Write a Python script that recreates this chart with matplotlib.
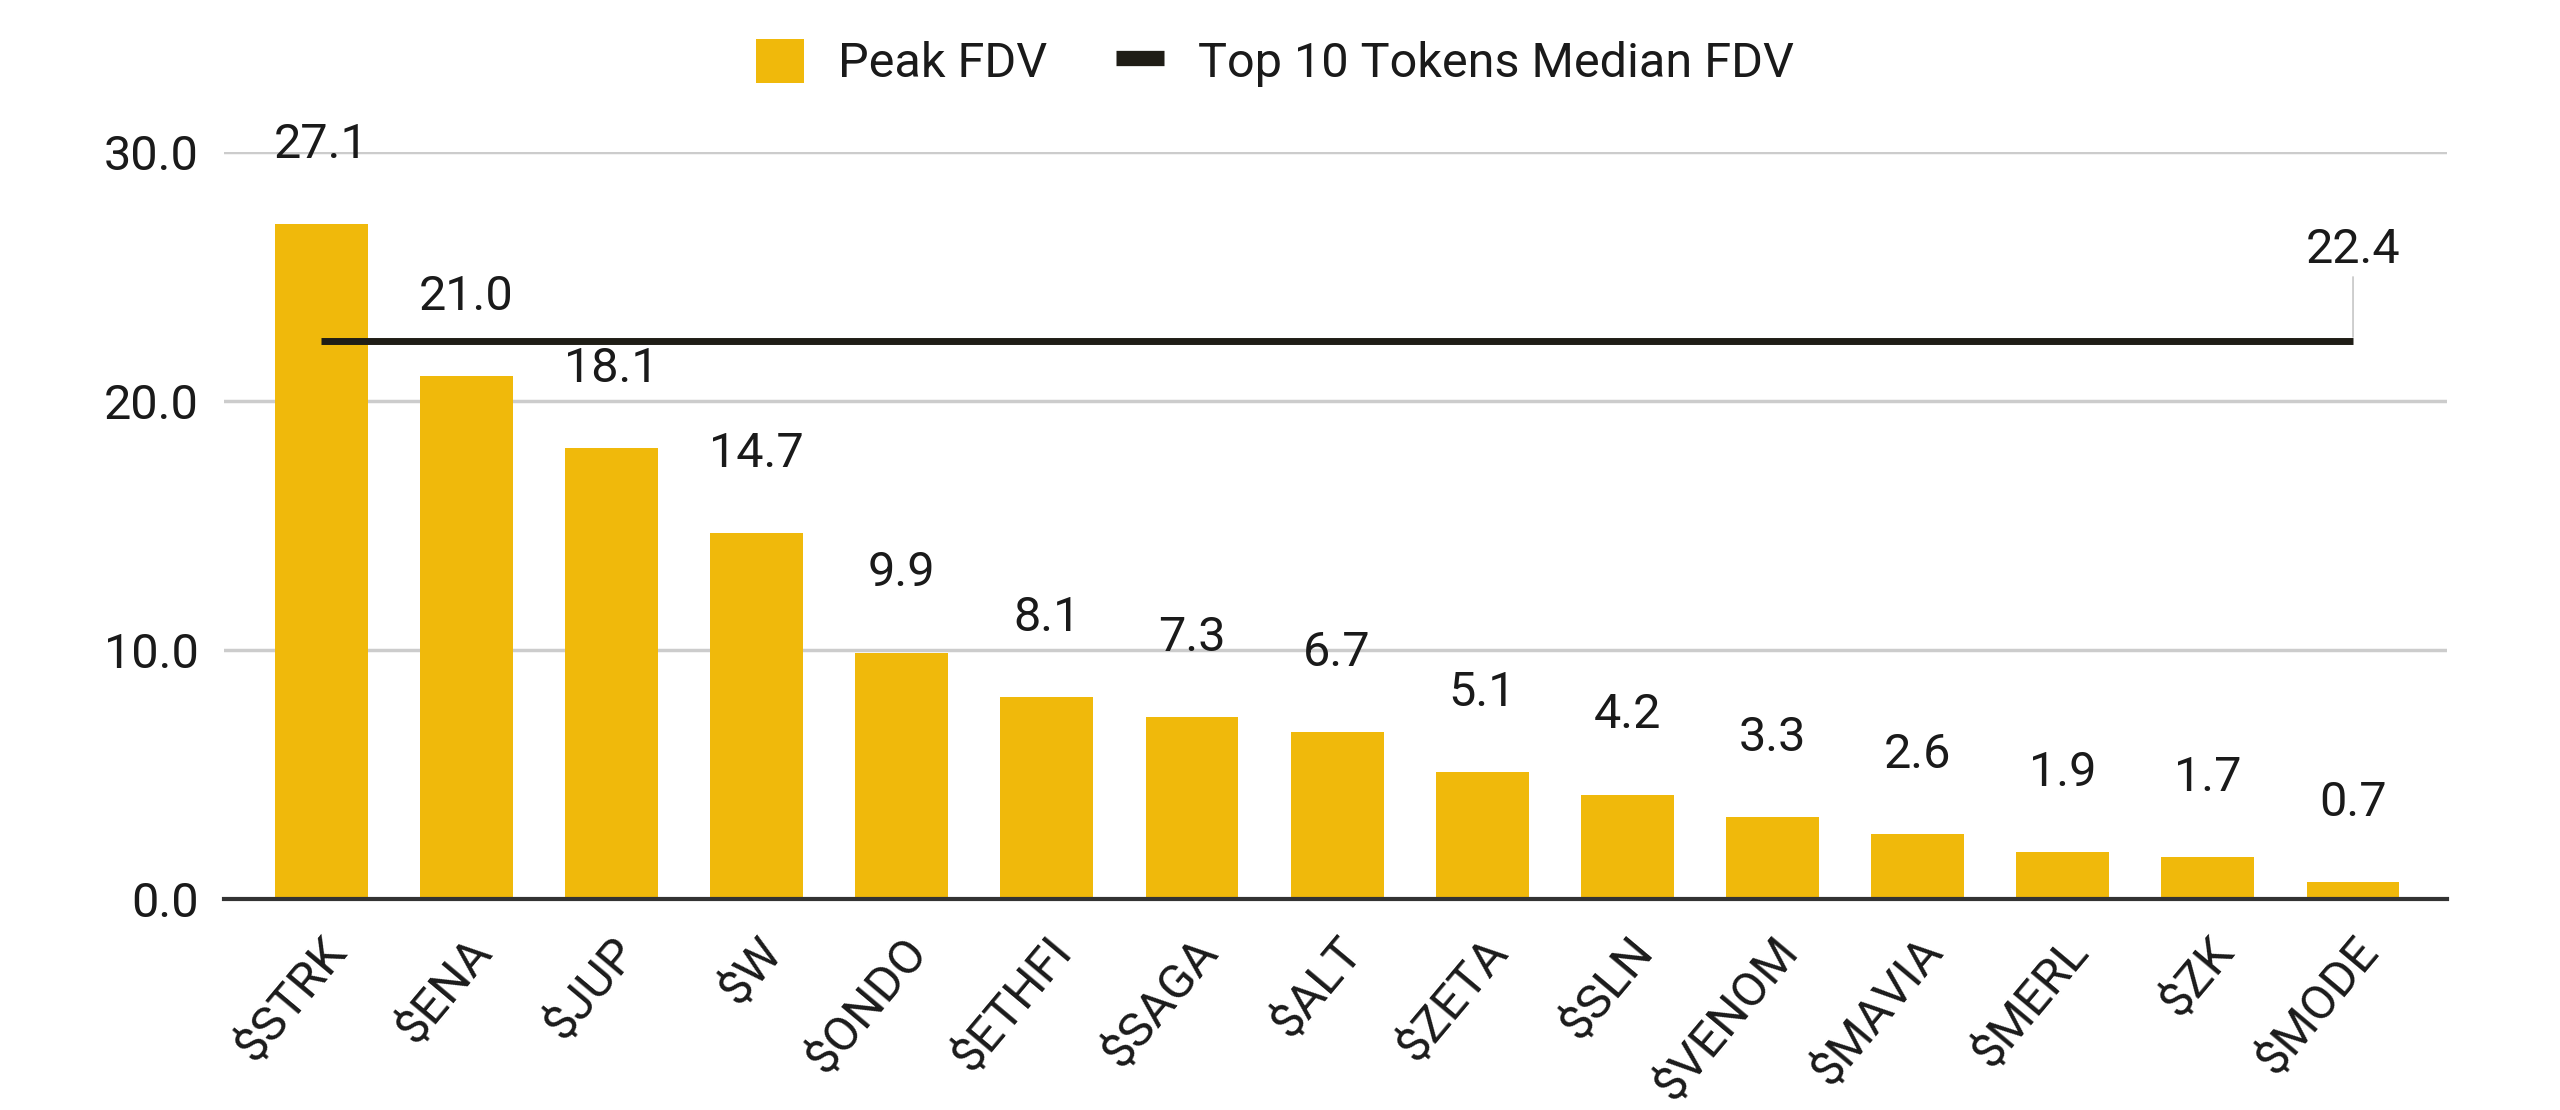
"""Peak FDV by token vs top 10 tokens median FDV"""

import matplotlib
matplotlib.use('Agg')
import matplotlib.pyplot as plt
from matplotlib.patches import Patch
from matplotlib.lines import Line2D

plt.rcParams['font.family'] = ['Roboto', 'DejaVu Sans']

tokens = ['$STRK', '$ENA', '$JUP', '$W', '$ONDO', '$ETHFI', '$SAGA', '$ALT',
          '$ZETA', '$SLN', '$VENOM', '$MAVIA', '$MERL', '$ZK', '$MODE']
peak_fdv = [27.1, 21.0, 18.1, 14.7, 9.9, 8.1, 7.3, 6.7, 5.1, 4.2, 3.3, 2.6, 1.9, 1.7, 0.7]
median_fdv = 22.4
yticks = [0, 10, 20, 30]

bar_color = '#F0B90B'
line_color = '#1F1D16'
text_color = '#1a1a1a'
fs = 35

fig = plt.figure(figsize=(25.6, 11.1), dpi=100)
ax = fig.add_axes([0.0875, 0.19, 0.8685, 0.673])

x = list(range(len(tokens)))
ax.bar(x, peak_fdv, width=0.64, color=bar_color, zorder=2)
ax.plot([x[0], x[-1]], [median_fdv, median_fdv], color=line_color, lw=5, zorder=3,
        solid_capstyle='butt')

for xi, v in zip(x, peak_fdv):
    ax.annotate(f'{v:.1f}', (xi, v), xytext=(0, 57), textcoords='offset points',
                ha='center', va='center', fontsize=fs, color=text_color,
                annotation_clip=False)

# median label with thin leader line
ax.annotate(f'{median_fdv:.1f}', (x[-1], median_fdv), xytext=(0, 66),
            textcoords='offset points', ha='center', va='center', fontsize=fs,
            color=text_color, annotation_clip=False,
            arrowprops=dict(arrowstyle='-', color='#bbbbbb', lw=1,
                            shrinkA=1, shrinkB=3))

ax.set_xlim(-0.67, len(tokens) - 1 + 0.65)
ax.set_ylim(0, 30)
ax.set_yticks(yticks)
ax.set_yticklabels([f'{t:.1f}' for t in yticks])
ax.set_xticks(x)
ax.set_xticklabels(tokens, rotation=50, ha='right', rotation_mode='anchor')

ax.grid(axis='y', color='#cccccc', lw=2.5, zorder=0)
ax.set_axisbelow(True)
for s in ['top', 'right', 'left']:
    ax.spines[s].set_visible(False)
ax.spines['bottom'].set_color('#333333')
ax.spines['bottom'].set_linewidth(3)
ax.spines['bottom'].set_zorder(4)
ax.tick_params(axis='both', length=0, labelsize=fs, colors=text_color)
ax.tick_params(axis='x', pad=22)
ax.tick_params(axis='y', pad=18)

handles = [Patch(facecolor=bar_color, edgecolor='none'),
           Line2D([0], [0], color=line_color, lw=11, solid_capstyle='butt')]
fig.legend(handles, ['Peak FDV', 'Top 10 Tokens Median FDV'], loc='center',
           bbox_to_anchor=(0.498, 0.943), ncol=2, frameon=False, fontsize=fs,
           handlelength=1.0, handleheight=1.0, handletextpad=0.7,
           columnspacing=1.4, labelcolor=text_color)

fig.savefig('out.png', dpi=100, facecolor='white')
